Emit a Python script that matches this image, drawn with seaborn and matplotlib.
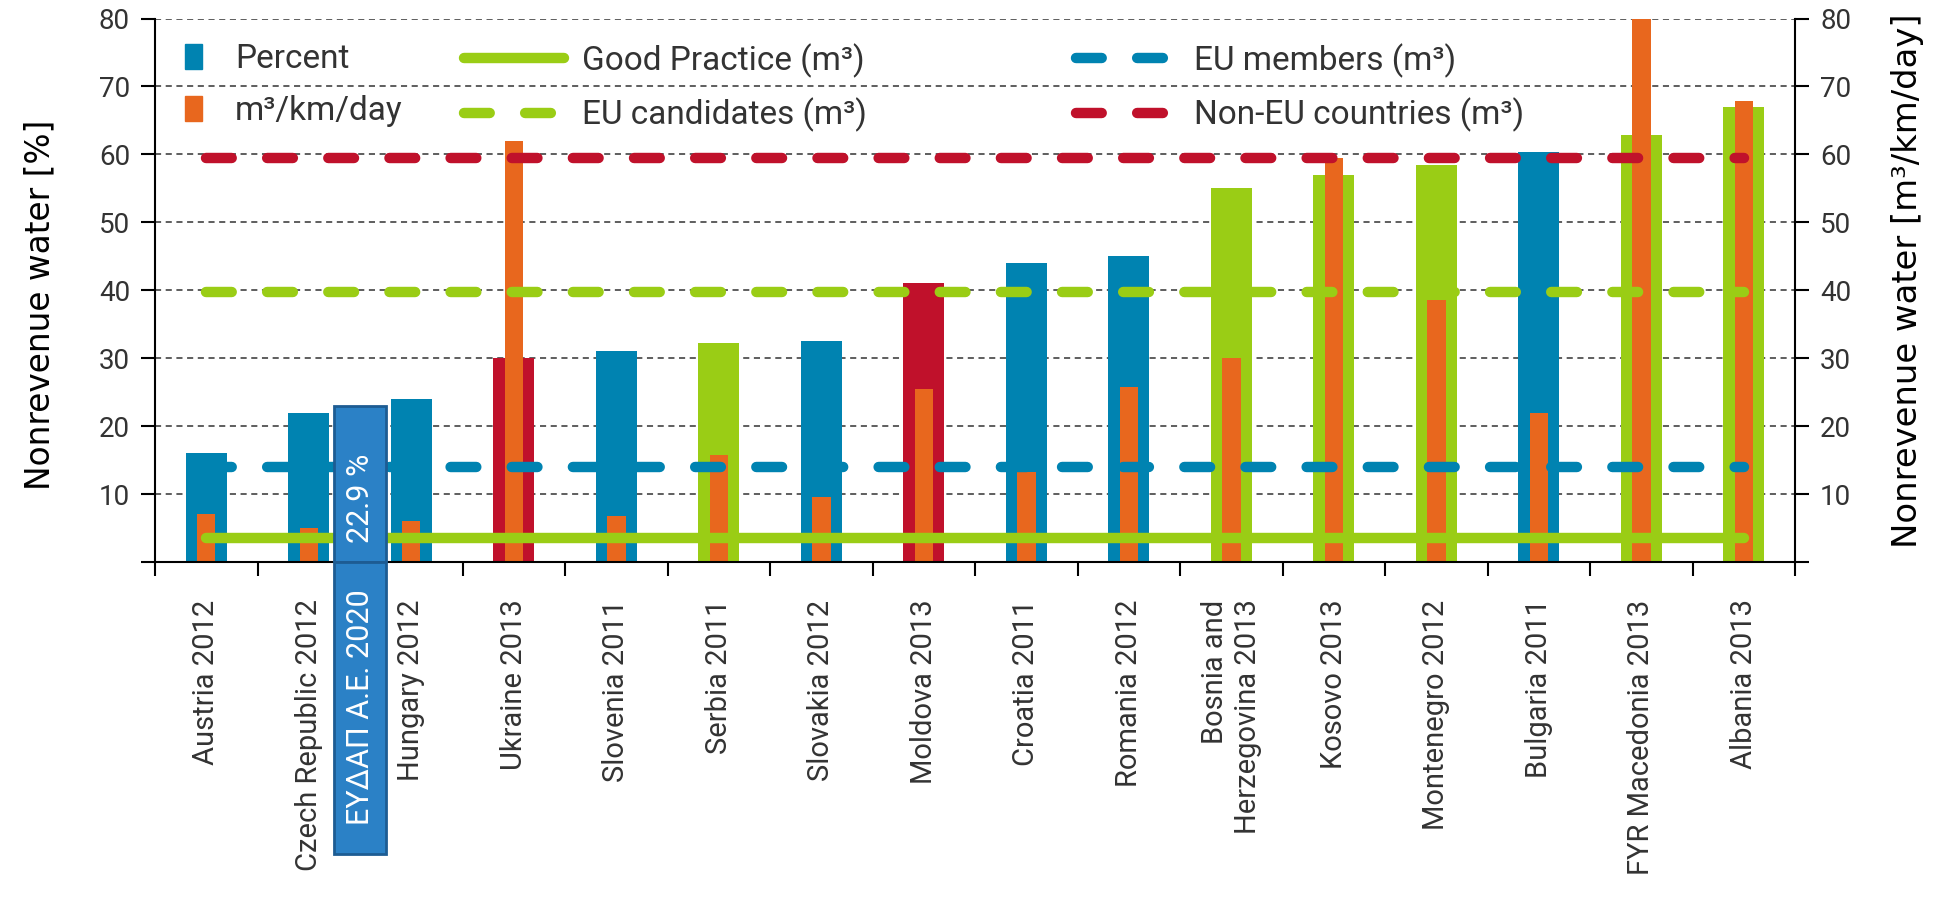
import matplotlib
matplotlib.use("Agg")
import matplotlib.pyplot as plt
import pandas as pd
import seaborn as sns
from matplotlib.patches import Patch, Rectangle
from matplotlib.lines import Line2D

# Data
countries = ["Austria 2012", "Czech Republic 2012", "Hungary 2012", "Ukraine 2013",
             "Slovenia 2011", "Serbia 2011", "Slovakia 2012", "Moldova 2013",
             "Croatia 2011", "Romania 2012", "Bosnia and\nHerzegovina 2013", "Kosovo 2013",
             "Montenegro 2012", "Bulgaria 2011", "FYR Macedonia 2013", "Albania 2013"]
groups = ["EU", "EU", "EU", "NonEU", "EU", "Cand", "EU", "NonEU",
          "EU", "EU", "Cand", "Cand", "Cand", "EU", "Cand", "Cand"]
percent = [16, 22, 24, 30, 31, 32.3, 32.5, 41, 44, 45, 55, 57, 58.5, 60.4, 62.8, 67]
m3_km_day = [7, 5, 6, 62, 6.8, 15.7, 9.5, 25.5, 13.2, 25.7, 30, 59.5, 38.6, 22, 80, 67.8]

good_practice = 3.5
eu_members = 14
eu_candidates = 39.7
non_eu = 59.5

eydap_value = 22.9
eydap_label = "ΕΥΔΑΠ Α.Ε. 2020"

# Colours
BLUE = "#0083b1"
ORANGE = "#e8671e"
GREEN = "#9acd15"
RED = "#c0112b"
BOX = "#2b81c6"
BOX_EDGE = "#1d5c93"
TXT = "#333333"

sns.set_theme(style="white")
plt.rcParams["font.family"] = ["Roboto", "DejaVu Sans"]

df = pd.DataFrame({"country": countries, "group": groups,
                   "percent": percent, "m3": m3_km_day})

fig = plt.figure(figsize=(19.4, 9.08), dpi=100)
ax = fig.add_axes([0.0799, 0.3811, 0.8454, 0.5985])

sns.barplot(data=df, x="country", y="percent", hue="group",
            palette={"EU": BLUE, "Cand": GREEN, "NonEU": RED},
            dodge=False, width=0.4, saturation=1, linewidth=0,
            errorbar=None, legend=False, ax=ax)
sns.barplot(data=df, x="country", y="m3", color=ORANGE, width=0.18,
            saturation=1, linewidth=0, errorbar=None, ax=ax)

ax.set_xlim(-0.5, 15.5)
ax.set_ylim(0, 80)
ax.set_axisbelow(True)
ax.yaxis.grid(True, linestyle=(0, (4, 3)), color=TXT, lw=1.1)
ax.xaxis.grid(False)

ticks = list(range(0, 81, 10))
tick_labels = [""] + [str(t) for t in ticks[1:]]
ax.set_yticks(ticks)
ax.set_yticklabels(tick_labels)
ax.tick_params(axis="y", length=10, width=1.5, direction="out", pad=8,
               labelsize=20, colors="black", left=True)
for lab in ax.get_yticklabels():
    lab.set_color(TXT)

ax.set_xticks(range(len(countries)))
ax.set_xticklabels(countries, rotation=90, fontsize=21, color=TXT)
for lab in ax.get_xticklabels():
    lab.set_multialignment("right")
ax.set_xticks([i - 0.5 for i in range(len(countries) + 1)], minor=True)
ax.tick_params(axis="x", which="major", length=0, pad=27)
ax.tick_params(axis="x", which="minor", length=10, width=1.5,
               direction="out", bottom=True, color="black")
ax.set_xlabel("")

ax.set_ylabel("Nonrevenue water [%]", fontsize=23.6, family="DejaVu Sans",
              color="black")
ax.yaxis.set_label_coords(-0.060, 0.473)

for side in ["top", "right"]:
    ax.spines[side].set_visible(False)
for side in ["left", "bottom"]:
    ax.spines[side].set_color("black")
    ax.spines[side].set_linewidth(1.5)

# Right axis with the m3 reference lines
ax2 = ax.twinx()
ax2.set_ylim(0, 80)
ax2.set_yticks(ticks)
ax2.set_yticklabels(tick_labels)
ax2.tick_params(axis="y", length=10, width=1.5, direction="out", pad=8,
                labelsize=20, colors="black", right=True)
for lab in ax2.get_yticklabels():
    lab.set_color(TXT)
ax2.set_ylabel("Nonrevenue water [m³/km/day]", fontsize=24.4,
               family="DejaVu Sans", color="black")
ax2.yaxis.set_label_coords(1.0585, 0.517)
ax2.grid(False)
for side in ["top", "left", "bottom"]:
    ax2.spines[side].set_visible(False)
ax2.spines["right"].set_color("black")
ax2.spines["right"].set_linewidth(1.5)

lw = 7.5
dash = (0, (2.47, 3.4))
x_ends = [0, len(countries) - 1]
ax2.plot(x_ends, [good_practice] * 2, color=GREEN, lw=lw,
         solid_capstyle="round")
ax2.plot(x_ends, [eu_members] * 2, color=BLUE, lw=lw, linestyle=dash,
         dash_capstyle="round")
ax2.plot(x_ends, [eu_candidates] * 2, color=GREEN, lw=lw, linestyle=dash,
         dash_capstyle="round")
ax2.plot(x_ends, [non_eu] * 2, color=RED, lw=lw, linestyle=dash,
         dash_capstyle="round")

# EYDAP highlight box (value above the axis, label below it)
ax2.add_patch(Rectangle((1.25, 0), 0.5, eydap_value, facecolor=BOX,
                        edgecolor=BOX_EDGE, lw=2, zorder=10))
ax2.add_patch(Rectangle((1.25, -43), 0.5, 43, facecolor=BOX,
                        edgecolor=BOX_EDGE, lw=2, zorder=10, clip_on=False))
ax2.text(1.5, 9.4, f"{eydap_value} %", rotation=90, ha="center",
         va="center", color="white", fontsize=22, zorder=11)
ax2.text(1.5, -21.3, eydap_label, rotation=90, ha="center", va="center",
         color="white", fontsize=22, zorder=11, clip_on=False)

# Legends (one per column)
leg_kw = dict(frameon=False, fontsize=24, borderaxespad=0, borderpad=0,
              labelspacing=0.6, loc="upper left", bbox_transform=fig.transFigure)
leg1 = ax2.legend(handles=[Patch(color=BLUE, label="Percent"),
                           Patch(color=ORANGE, label="m³/km/day")],
                  bbox_to_anchor=(0.0954, 0.9525), handlelength=0.5,
                  handleheight=0.8, handletextpad=1.0, **leg_kw)
ax2.add_artist(leg1)
leg2 = ax2.legend(handles=[Line2D([], [], color=GREEN, lw=lw, solid_capstyle="round",
                                  label="Good Practice (m³)"),
                           Line2D([], [], color=GREEN, lw=lw, linestyle=dash,
                                  dash_capstyle="round", label="EU candidates (m³)")],
                  bbox_to_anchor=(0.239, 0.9525), handlelength=3.0,
                  handletextpad=0.55, **leg_kw)
ax2.add_artist(leg2)
leg3 = ax2.legend(handles=[Line2D([], [], color=BLUE, lw=lw, linestyle=dash,
                                  dash_capstyle="round", label="EU members (m³)"),
                           Line2D([], [], color=RED, lw=lw, linestyle=dash,
                                  dash_capstyle="round", label="Non-EU countries (m³)")],
                  bbox_to_anchor=(0.5546, 0.9525), handlelength=3.0,
                  handletextpad=0.55, **leg_kw)
for leg in (leg1, leg2, leg3):
    for t in leg.get_texts():
        t.set_color(TXT)

fig.savefig("out.png", dpi=100)
